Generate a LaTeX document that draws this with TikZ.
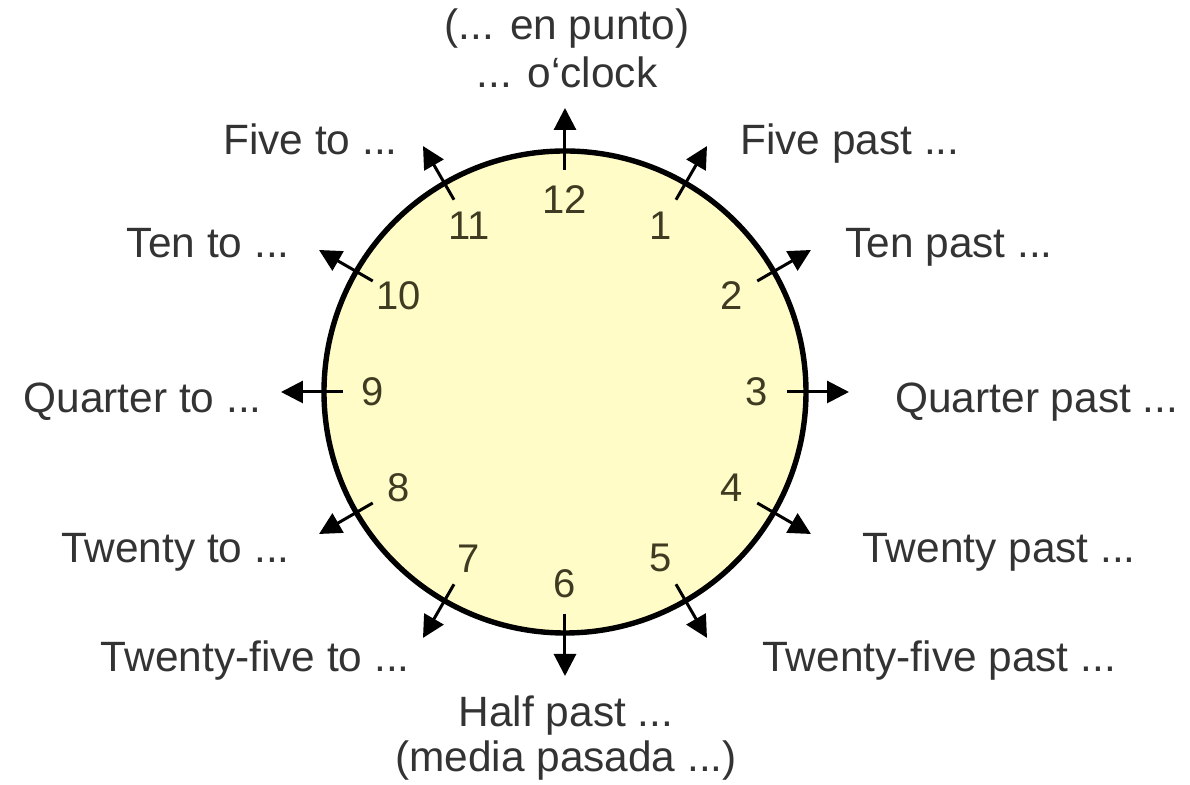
\documentclass[tikz,border=0pt]{standalone}
\usepackage{fontspec}
\setmainfont{Liberation Sans}
\usetikzlibrary{arrows.meta}
\definecolor{dialfill}{HTML}{FFFCC8}
\definecolor{labelgray}{HTML}{333333}
\definecolor{numolive}{HTML}{3F3B22}

\begin{document}
\begin{tikzpicture}[x=0.5pt, y=0.5pt,
            dial/.style={circle, draw=black, line width=2.7pt, fill=dialfill, minimum size=241pt, inner sep=0pt},
            tick/.style={line width=1.5pt, -{Triangle[length=11pt, width=11pt]}},
            num/.style={inner sep=0pt, text=numolive, font=\fontsize{20}{24}\selectfont},
            lbl/.style={inner sep=0pt, text=labelgray, font=\fontsize{21.2}{26}\selectfont}
        ]
        \useasboundingbox (-565,-393) rectangle (625,392);

        \node[dial] (face) at (0,0) {};

        % hour numbers
        \node[num] (n12) at (90:192) {12};
        \node[num] (n1) at (60:192) {1};
        \node[num] (n2) at (30:192) {2};
        \node[num] (n3) at (0:192) {3};
        \node[num] (n4) at (-30:192) {4};
        \node[num] (n5) at (-60:192) {5};
        \node[num] (n6) at (-90:192) {6};
        \node[num] (n7) at (-120:192) {7};
        \node[num] (n8) at (-150:192) {8};
        \node[num] (n9) at (180:192) {9};
        \node[num] (n10) at (150:192) {10};
        \node[num] (n11) at (120:192) {11};

        % arrows through the rim
        \foreach \h in {1,...,12} {
            \coordinate (in\h) at ({90-30*\h}:222);
            \coordinate (out\h) at ({90-30*\h}:284);
            \draw[tick] (in\h) -- (out\h);
        }

        \node[lbl, anchor=base] (oclock1) at (2,352) {(... en punto)};
        \node[lbl, anchor=base] (oclock2) at (2,304) {... o\symbol{96}clock};
        \node[lbl, anchor=base west] (past5) at (175,237) {Five past ...};
        \node[lbl, anchor=base east] (to5) at (-167,237) {Five to ...};
        \node[lbl, anchor=base west] (past10) at (280,134) {Ten past ...};
        \node[lbl, anchor=base east] (to10) at (-275,134) {Ten to ...};
        \node[lbl, anchor=base west] (past15) at (330,-21) {Quarter past ...};
        \node[lbl, anchor=base east] (to15) at (-303,-21) {Quarter to ...};
        \node[lbl, anchor=base west] (past20) at (297,-171) {Twenty past ...};
        \node[lbl, anchor=base east] (to20) at (-275,-171) {Twenty to ...};
        \node[lbl, anchor=base west] (past25) at (197,-280) {Twenty-five past ...};
        \node[lbl, anchor=base east] (to25) at (-155,-280) {Twenty-five to ...};
        \node[lbl, anchor=base] (half1) at (1,-335) {Half past ...};
        \node[lbl, anchor=base] (half2) at (1,-380) {(media pasada ...)};
    \end{tikzpicture}
\end{document}
